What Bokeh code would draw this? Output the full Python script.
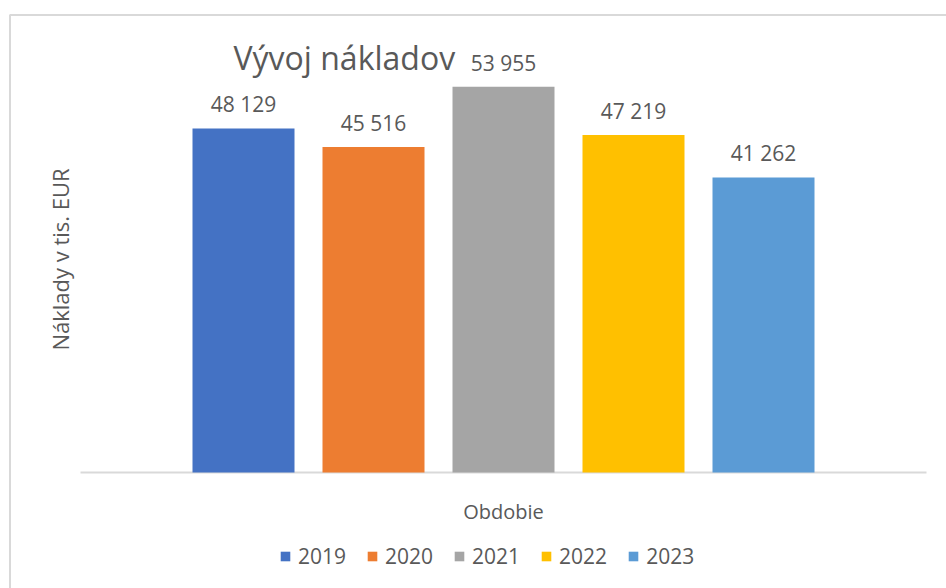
import numpy as np
from bokeh.plotting import figure
from bokeh.models import ColumnDataSource, Range1d, Label, LabelSet, Legend, LegendItem
from bokeh.core.properties import value
from bokeh.embed import file_html
from bokeh.resources import INLINE

# ---- data ----
years = ["2019", "2020", "2021", "2022", "2023"]
costs = [48129, 45516, 53955, 47219, 41262]
colors = ["#4472C4", "#ED7D31", "#A5A5A5", "#FFC000", "#5B9BD5"]
title_text = "Vývoj nákladov"
y_title = "Náklady v tis. EUR"
x_title = "Obdobie"

# ---- layout geometry (pixels) ----
W, H = 946, 588
SLOT = 130.0          # px between bar centres
CX = 503.0            # px centre of cluster
BASE = 472.0          # px y of baseline (from top)
AX_MAX = 60000.0      # axis max
PLOT_TOP = 43.0
K = (BASE - PLOT_TOP) / AX_MAX   # px per unit

x_range = Range1d((0 - CX) / SLOT, (W - CX) / SLOT)
y_range = Range1d(-(H - BASE) / K, BASE / K)

def px_x(px):
    return x_range.start + px * (x_range.end - x_range.start) / W

def px_y(py_top):
    return y_range.end - py_top * (y_range.end - y_range.start) / H

FONT = "Open Sans"
TXT = "#595959"

xs = np.arange(len(years)) - (len(years) - 1) / 2.0
labels = [f"{v:,}".replace(",", "\u00a0") for v in costs]
src = ColumnDataSource(dict(x=xs, top=costs, year=years, color=colors, lab=labels))

p = figure(width=W, height=H, x_range=x_range, y_range=y_range,
           output_backend="svg", toolbar_location=None,
           x_axis_location=None, y_axis_location=None,
           min_border=0, min_border_left=0, min_border_right=0,
           min_border_top=0, min_border_bottom=0)
p.outline_line_color = None
p.grid.visible = False
p.background_fill_color = "white"
p.border_fill_color = "white"

# chart border (top & left visible)
p.line([px_x(9.5), px_x(9.5), px_x(W + 5)], [px_y(H + 5), px_y(14.5), px_y(14.5)],
       line_color="#D9D9D9", line_width=2)

# baseline
p.line([px_x(80), px_x(926)], [0, 0], line_color="#D9D9D9", line_width=2)

bars = p.vbar(x="x", top="top", bottom=0, width=102 / SLOT, source=src,
              fill_color="color", line_color=None)

ls = LabelSet(x="x", y="top", text="lab", source=src, y_offset=16,
              text_align="center", text_baseline="alphabetic",
              text_font=value(FONT), text_font_size="21px", text_color=TXT)
p.add_layout(ls)

p.add_layout(Label(x=233, y=H - 57, x_units="screen", y_units="screen",
                   text=title_text, text_font=FONT, text_font_size="32px",
                   text_color=TXT, text_align="left", text_baseline="alphabetic"))

p.add_layout(Label(x=59, y=H - 259, x_units="screen", y_units="screen",
                   text=y_title, angle=np.pi / 2, text_font=FONT, text_font_size="22px",
                   text_color=TXT, text_align="center", text_baseline="middle"))

p.add_layout(Label(x=503, y=H - 511, x_units="screen", y_units="screen",
                   text=x_title, text_font=FONT, text_font_size="20px",
                   text_color=TXT, text_align="center", text_baseline="alphabetic"))

items = [LegendItem(label=y, renderers=[bars], index=i) for i, y in enumerate(years)]
leg = Legend(items=items, orientation="horizontal", location=(279, H - 570),
             padding=0, margin=0, spacing=20, label_standoff=7,
             glyph_width=12, glyph_height=12,
             border_line_color=None, background_fill_alpha=0,
             label_text_font=FONT, label_text_font_size="21px", label_text_color=TXT)
p.add_layout(leg)

open("out.html", "w").write(file_html(p, INLINE))
